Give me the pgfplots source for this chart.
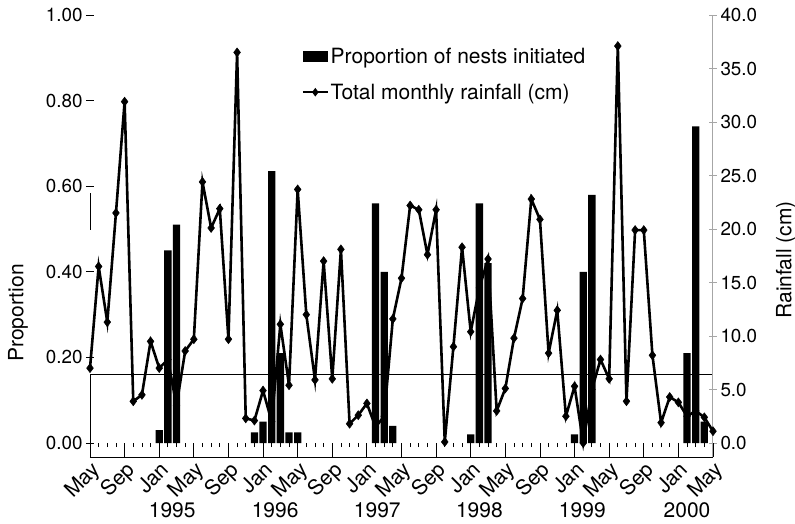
\documentclass[border=0pt]{standalone}
\usepackage{fontspec}
\setmainfont{TeX Gyre Heros}
\usepackage{pgfplots}
\pgfplotsset{compat=1.18}
\begin{document}
\begin{tikzpicture}
\useasboundingbox (-90pt,-66pt) rectangle (705pt,457pt);
\pgfplotsset{
  common/.style={
    width=623pt, height=442pt, scale only axis,
    xmin=0, xmax=72, clip=false,
    /pgf/number format/assume math mode=true,
    tick label style={font=\fontsize{18.8}{21}\selectfont},
    label style={font=\fontsize{21}{24}\selectfont},
  }
}
% ---------- proportion axis (left) ----------
\begin{axis}[common,
  ymin=-0.0327, ymax=1,
  axis x line=none,
  axis y line*=left,
  y axis line style={draw=none},
  ytick={0,0.2,0.4,0.6,0.8,1.0},
  yticklabel style={/pgf/number format/.cd, fixed, fixed zerofill, precision=2},
  major tick length=8pt, ytick align=center,
  y tick style={black, line width=0.8pt},
  ylabel={Proportion},
  ylabel style={at={(rel axis cs:-0.1156,0.326)}, anchor=center},
  legend style={at={(rel axis cs:0.335,0.935)}, anchor=north west, draw=none, fill=none,
    font=\fontsize{21}{24}\selectfont, row sep=15pt},
  legend cell align=left,
]
\addplot[ybar, bar width=7.3pt, bar shift=0pt, fill=black, draw=none,
  legend image code/.code={\fill[black] (0pt,-5.5pt) rectangle (25pt,5.5pt);}]
  coordinates {
  (8,0.03) (9,0.45) (10,0.51)
  (19,0.025) (20,0.05) (21,0.635) (22,0.21) (23,0.025) (24,0.025)
  (33,0.56) (34,0.40) (35,0.04)
  (44,0.02) (45,0.56) (46,0.42)
  (56,0.02) (57,0.40) (58,0.58)
  (69,0.21) (70,0.74) (71,0.05)
  };
\addlegendentry{Proportion of nests initiated}
\addlegendimage{legend image code/.code={\draw[black, line width=1.8pt] (0pt,0pt) -- (25pt,0pt); \draw[black, line width=1pt, mark=diamond*, mark size=3.5pt] plot coordinates {(12.5pt,0pt)};}}
\addlegendentry{Total monthly rainfall (cm)}
% frame around lower band and stray segment
\draw[black, line width=0.8pt] (axis cs:0,-0.0327) -- (axis cs:0,0.1595) -- (axis cs:72,0.1595);
\draw[black, line width=0.8pt] (axis cs:0,0.498) -- (axis cs:0,0.584);
\end{axis}
% ---------- rainfall axis (right) ----------
\begin{axis}[common,
  ymin=-1.307, ymax=40,
  axis x line=none,
  axis y line*=right,
  y axis line style={gray!70, line width=1pt},
  ytick={0,5,...,40},
  yticklabel style={/pgf/number format/.cd, fixed, fixed zerofill, precision=1},
  major tick length=8pt, ytick align=center,
  y tick style={gray!70, line width=0.8pt},
  ylabel={Rainfall (cm)},
  ylabel style={at={(ticklabel cs:0.446,12pt)}},
]
\addplot[black, line width=2.6pt, mark=diamond*, mark size=4.5pt, mark options={line width=0.5pt}] coordinates {
(0,7.0) (1,16.5) (2,11.3) (3,21.5) (4,31.9) (5,3.9) (6,4.5) (7,9.5) (8,7.0) (9,7.8)
(10,3.5) (11,8.6) (12,9.7) (13,24.4) (14,20.1) (15,21.9) (16,9.7) (17,36.5) (18,2.3) (19,2.1)
(20,4.9) (21,2.0) (22,11.1) (23,5.4) (24,23.7) (25,12.0) (26,5.9) (27,17.0) (28,6.0) (29,18.1)
(30,1.8) (31,2.6) (32,3.7) (33,1.5) (34,2.5) (35,11.6) (36,15.4) (37,22.2) (38,21.8) (39,17.6)
(40,21.8) (41,0.1) (42,9.0) (43,18.3) (44,10.4) (45,14.5) (46,17.2) (47,3.0) (48,5.1) (49,9.8)
(50,13.5) (51,22.8) (52,20.9) (53,8.4) (54,12.4) (55,2.5) (56,5.3) (57,0.0) (58,5.0) (59,7.8)
(60,6.0) (61,37.1) (62,3.9) (63,19.9) (64,19.9) (65,8.2) (66,1.9) (67,4.3) (68,3.8) (69,2.5)
(70,3.0) (71,2.4) (72,1.1)
};
\end{axis}
% ---------- time axis (bottom) ----------
\begin{axis}[common,
  ymin=0, ymax=1,
  axis y line=none,
  axis x line*=bottom,
  x axis line style={black, line width=1pt},
  xtick={0,4,...,72},
  xticklabels={May,Sep,Jan,May,Sep,Jan,May,Sep,Jan,May,Sep,Jan,May,Sep,Jan,May,Sep,Jan,May},
  minor x tick num=3,
  xtick align=inside,
  major tick length=14pt, minor tick length=4pt,
  x tick style={black, line width=0.8pt},
  every minor tick/.append style={yshift=10pt},
  xticklabel style={rotate=45, anchor=north east, inner sep=2pt, font=\fontsize{21}{24}\selectfont},
]
\node[font=\fontsize{21}{24}\selectfont] at (axis cs:9.5,0) [yshift=-53pt] {1995};
\node[font=\fontsize{21}{24}\selectfont] at (axis cs:21.4,0) [yshift=-53pt] {1996};
\node[font=\fontsize{21}{24}\selectfont] at (axis cs:33.2,0) [yshift=-53pt] {1997};
\node[font=\fontsize{21}{24}\selectfont] at (axis cs:45,0) [yshift=-53pt] {1998};
\node[font=\fontsize{21}{24}\selectfont] at (axis cs:56.9,0) [yshift=-53pt] {1999};
\node[font=\fontsize{21}{24}\selectfont] at (axis cs:69,0) [yshift=-53pt] {2000};
\end{axis}
\end{tikzpicture}
\end{document}
